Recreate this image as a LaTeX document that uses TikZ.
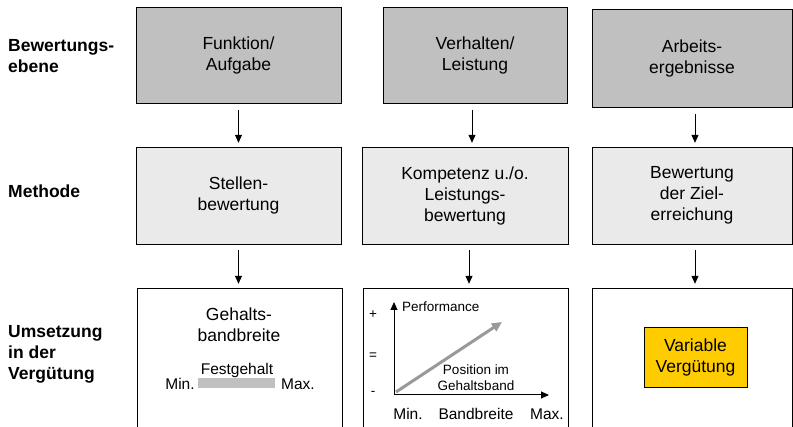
\documentclass[tikz,border=0pt]{standalone}
\usepackage{fontspec}
\setmainfont{Liberation Sans}
\usepackage{tikz}
\usetikzlibrary{arrows.meta}

\definecolor{boxdark}{HTML}{C0C0C0}
\definecolor{boxlight}{HTML}{EAEAEA}
\definecolor{bandgray}{HTML}{C0C0C0}
\definecolor{trendgray}{HTML}{999999}
\definecolor{payyellow}{HTML}{FFCC00}

\newcommand{\fntbox}{\fontsize{17.5}{21}\selectfont}
\newcommand{\fntsmall}{\fontsize{15.5}{18}\selectfont}
\newcommand{\fntchart}{\fontsize{13.5}{16}\selectfont}

\begin{document}
\begin{tikzpicture}[x=1pt,y=-1pt]
	\tikzstyle{box_dark} = [rectangle, draw=black, fill=boxdark, align=center, inner sep=0pt, font=\fntbox]
	\tikzstyle{box_light} = [rectangle, draw=black, fill=boxlight, align=center, inner sep=0pt, font=\fntbox]
	\tikzstyle{box_open} = [rectangle, draw=black, fill=white, inner sep=0pt]
	\tikzstyle{row_label} = [anchor=west, align=left, inner sep=0pt, font=\fntbox\bfseries]
	\tikzstyle{step_arrow} = [-{Triangle[length=8pt,width=7pt]}, line width=0.8pt]
	\tikzstyle{axis_arrow} = [-{Triangle[length=8pt,width=7pt]}, line width=1pt]

	\clip (0,0) rectangle (793,427);

%------------------------------------------------------------
	\node[row_label] (l0) at (8,56) {Bewertungs-\\ebene};
	\node[row_label] (l1) at (8,191) {Methode};
	\node[row_label] (l2) at (8,354.5) {Umsetzung\\in der\\Vergütung};

%------------------------------------------------------------

	\node[box_dark, minimum width=205, minimum height=96] (f1) at (238.5,55) {Funktion/\\Aufgabe};
	\node[box_dark, minimum width=184, minimum height=96] (f2) at (475,55) {Verhalten/\\Leistung};
	\node[box_dark, minimum width=200, minimum height=98] (f3) at (692,58) {Arbeits-\\ergebnisse};

%------------------------------------------------------------

	\node[box_light, minimum width=205, minimum height=97] (m1) at (238.5,195.5) {Stellen-\\bewertung};
	\node[box_light, minimum width=206, minimum height=97] (m2) at (465,195.5) {Kompetenz u./o.\\Leistungs-\\bewertung};
	\node[box_light, minimum width=200, minimum height=97] (m3) at (692,195.5) {Bewertung\\der Ziel-\\erreichung};

%------------------------------------------------------------

	\node[box_open, minimum width=205, minimum height=145] (u1) at (239.5,360.5) {};
	\node[box_open, minimum width=205, minimum height=145] (u2) at (465.5,360.5) {};
	\node[box_open, minimum width=200, minimum height=145] (u3) at (692,360.5) {};

%------------------------------------------------------------

	\draw[step_arrow, shorten <=7pt, shorten >=4pt] (f1.south) -- (f1.south |- m1.north);
	\draw[step_arrow, shorten <=7pt, shorten >=4pt] ([xshift=-3pt]f2.south) -- ([xshift=-3pt]f2.south |- m2.north);
	\draw[step_arrow, shorten <=7pt, shorten >=4pt] ([xshift=3pt]f3.south) -- ([xshift=3pt]f3.south |- m3.north);

	\draw[step_arrow, shorten <=6pt, shorten >=4pt] (m1.south) -- (m1.south |- u1.north);
	\draw[step_arrow, shorten <=6pt, shorten >=4pt] ([xshift=4pt]m2.south) -- ([xshift=4pt]m2.south |- u2.north);
	\draw[step_arrow, shorten <=6pt, shorten >=4pt] ([xshift=3pt]m3.south) -- ([xshift=3pt]m3.south |- u3.north);

%------------------------------------------------------------

	\node[align=center, inner sep=0pt, font=\fntbox] (band_title) at (239,325) {Gehalts-\\bandbreite};
	\node[anchor=base, inner sep=0pt, font=\fntsmall] (band_fix) at (237,375) {Festgehalt};
	\node[rectangle, fill=bandgray, minimum width=77, minimum height=10, inner sep=0pt] (band_bar) at (236.5,383) {};
	\node[anchor=base, inner sep=0pt, font=\fntsmall] (band_min) at (180,390) {Min.};
	\node[anchor=base, inner sep=0pt, font=\fntsmall] (band_max) at (298,390) {Max.};

%------------------------------------------------------------

	\coordinate (o) at (394,395);
	\coordinate (ytip) at (394,302);
	\coordinate (xtip) at (549,395);
	\coordinate (g0) at (396,392);
	\coordinate (g1) at (502,322);

	\draw[trendgray, line width=3pt, -{Triangle[length=10pt,width=9pt]}] (g0) -- (g1);
	\draw[axis_arrow] (o) -- (ytip);
	\draw[axis_arrow] (o) -- (xtip);

	\node[anchor=base west, inner sep=0pt, font=\fntchart] (perf) at (402,312) {Performance};
	\node[inner sep=0pt, font=\fntchart] (plus) at (373,315) {+};
	\node[inner sep=0pt, font=\fntchart] (equal) at (373,356) {=};
	\node[inner sep=0pt, font=\fntchart] (minus) at (373,393) {-};
	\node[align=center, inner sep=0pt, font=\fntchart] (pos) at (476,378) {Position im\\Gehaltsband};

	\node[anchor=base, inner sep=0pt, font=\fntsmall] (ax_min) at (408,420) {Min.};
	\node[anchor=base, inner sep=0pt, font=\fntsmall] (ax_band) at (476,420) {Bandbreite};
	\node[anchor=base, inner sep=0pt, font=\fntsmall] (ax_max) at (547,420) {Max.};

%------------------------------------------------------------

	\node[rectangle, draw=black, fill=payyellow, align=center, inner sep=0pt, minimum width=103, minimum height=60, font=\fntbox] (pay) at (695.5,357) {Variable\\Vergütung};

\end{tikzpicture}
\end{document}
